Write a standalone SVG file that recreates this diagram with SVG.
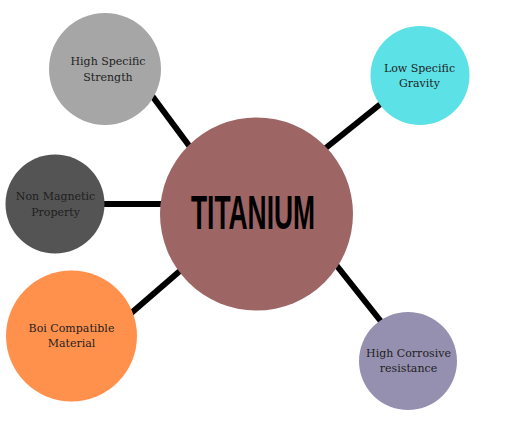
<svg xmlns="http://www.w3.org/2000/svg" width="512" height="429" viewBox="0 0 512 429">
<style>
.conn{stroke:#000;stroke-width:6;stroke-linecap:butt}
.lbl{font-family:"DejaVu Serif","Liberation Serif",serif;font-size:11px;fill:#1e1e1e;text-anchor:middle}
.title{font-family:"Liberation Sans",Arial,sans-serif;font-weight:bold;font-size:48px;fill:#000;text-anchor:middle}
</style>
<rect width="512" height="429" fill="#fff"/>
<g id="connectors">
<line class="conn" x1="150" y1="93" x2="193" y2="151"/>
<line class="conn" x1="383" y1="102" x2="322" y2="151"/>
<line class="conn" x1="100" y1="204" x2="165" y2="204"/>
<line class="conn" x1="129" y1="315" x2="181" y2="270"/>
<line class="conn" x1="333" y1="261" x2="383" y2="324"/>
</g>
<g id="titanium">
<circle cx="256.5" cy="214" r="96.5" fill="#9e6565"/>
<text class="title" x="253" y="229" textLength="124" lengthAdjust="spacingAndGlyphs">TITANIUM</text>
</g>
<g id="high-specific-strength">
<circle cx="105" cy="69" r="56" fill="#a6a6a6"/>
<text class="lbl" x="108" y="65">High Specific</text>
<text class="lbl" x="108" y="81">Strength</text>
</g>
<g id="low-specific-gravity">
<circle cx="420" cy="75.5" r="49.5" fill="#5ce1e6"/>
<text class="lbl" x="419.5" y="72">Low Specific</text>
<text class="lbl" x="419.5" y="87">Gravity</text>
</g>
<g id="non-magnetic-property">
<circle cx="55" cy="204" r="49.5" fill="#545454"/>
<text class="lbl" x="55.5" y="200">Non Magnetic</text>
<text class="lbl" x="55.5" y="216">Property</text>
</g>
<g id="boi-compatible-material">
<circle cx="71.5" cy="336" r="65.5" fill="#ff914d"/>
<text class="lbl" x="71.5" y="332">Boi Compatible</text>
<text class="lbl" x="71.5" y="347">Material</text>
</g>
<g id="high-corrosive-resistance">
<circle cx="408" cy="361" r="49" fill="#9590b0"/>
<text class="lbl" x="408.5" y="357">High Corrosive</text>
<text class="lbl" x="408.5" y="372">resistance</text>
</g>
</svg>
